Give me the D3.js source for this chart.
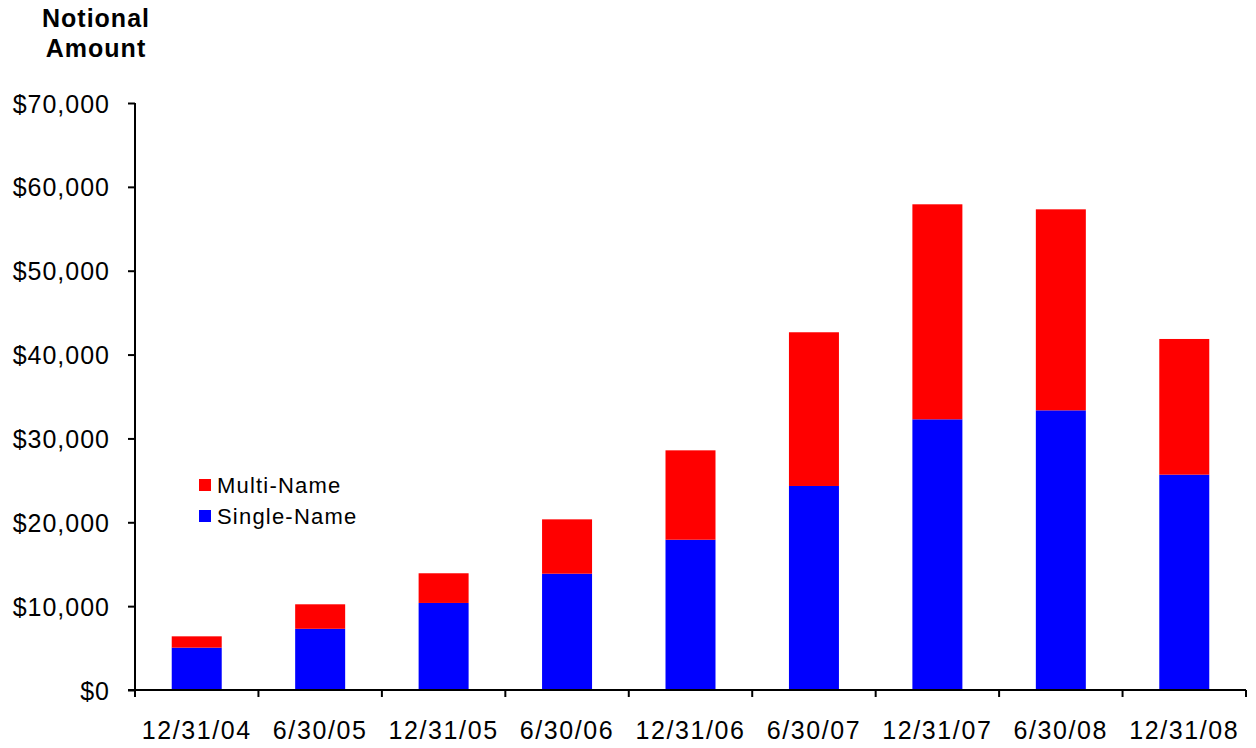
<!DOCTYPE html>
<html>
<head>
<meta charset="utf-8">
<script src="https://cdn.jsdelivr.net/npm/d3@7"></script>
<style>
  body { margin: 0; background: #fff; }
  text { font-family: "Liberation Sans", Arial, sans-serif; fill: #000; }
</style>
</head>
<body>
<script>
// values (notional amount, $)
var dates = ["12/31/04", "6/30/05", "12/31/05", "6/30/06", "12/31/06", "6/30/07", "12/31/07", "6/30/08", "12/31/08"];
var singleName = [5050, 7300, 10380, 13870, 17920, 24330, 32280, 33350, 25680];
var multiName = [1350, 2920, 3540, 6480, 10660, 18330, 25640, 23970, 16180];
var yTicks = [0, 10000, 20000, 30000, 40000, 50000, 60000, 70000];
var seriesNames = ["Multi-Name", "Single-Name"];
var colors = {"Single-Name": "#0000ff", "Multi-Name": "#ff0000"};

var width = 1256, height = 748;
var plotLeft = 135, plotRight = 1246, plotTop = 103, plotBottom = 690;

var svg = d3.select("body").append("svg")
    .attr("width", width)
    .attr("height", height);

var x = d3.scaleBand().domain(dates).range([plotLeft, plotRight]).paddingInner(0.595).paddingOuter(0.2975);
var y = d3.scaleLinear().domain([0, 70000]).range([plotBottom, plotTop]);

var rows = dates.map(function(d, i) {
  return {date: d, "Single-Name": singleName[i], "Multi-Name": multiName[i]};
});
var stack = d3.stack().keys(["Single-Name", "Multi-Name"])(rows);

svg.selectAll("g.layer")
  .data(stack)
  .enter().append("g")
  .attr("class", "layer")
  .attr("fill", function(d) { return colors[d.key]; })
  .selectAll("rect")
  .data(function(d) { return d; })
  .enter().append("rect")
  .attr("x", function(d) { return x(d.data.date); })
  .attr("width", x.bandwidth())
  .attr("y", function(d) { return y(d[1]); })
  .attr("height", function(d) { return y(d[0]) - y(d[1]); });

// y axis
var yAxis = svg.append("g")
  .attr("transform", "translate(" + plotLeft + ",0)")
  .call(d3.axisLeft(y).tickValues(yTicks).tickSize(7).tickPadding(18)
    .tickFormat(function(d) { return "$" + d3.format(",")(d); }));
yAxis.select(".domain").attr("stroke", "#000").attr("stroke-width", 2).attr("d", "M0," + plotTop + "V" + plotBottom);
yAxis.selectAll(".tick line").attr("stroke", "#000").attr("stroke-width", 2);
yAxis.selectAll("text").attr("font-size", 25).attr("letter-spacing", 1).attr("dy", "0.36em");

// x axis, ticks on the category boundaries
var bounds = d3.range(dates.length + 1).map(function(i) { return plotLeft + i * x.step(); });
var xAxis = svg.append("g");
xAxis.append("line")
  .attr("x1", plotLeft - 7).attr("x2", plotRight)
  .attr("y1", plotBottom).attr("y2", plotBottom)
  .attr("stroke", "#000").attr("stroke-width", 2);
xAxis.selectAll("line.tk")
  .data(bounds)
  .enter().append("line")
  .attr("class", "tk")
  .attr("x1", function(d) { return d; }).attr("x2", function(d) { return d; })
  .attr("y1", plotBottom).attr("y2", plotBottom + 7)
  .attr("stroke", "#000").attr("stroke-width", 2);
xAxis.selectAll("text")
  .data(dates)
  .enter().append("text")
  .attr("x", function(d) { return x(d) + x.bandwidth() / 2; })
  .attr("y", 739)
  .attr("text-anchor", "middle")
  .attr("font-size", 25)
  .attr("letter-spacing", 1.6)
  .text(function(d) { return d; });

// axis title
svg.append("text")
  .attr("x", 96).attr("y", 27)
  .attr("text-anchor", "middle")
  .attr("font-size", 25).attr("font-weight", "bold").attr("letter-spacing", 1)
  .text("Notional");
svg.append("text")
  .attr("x", 96).attr("y", 57)
  .attr("text-anchor", "middle")
  .attr("font-size", 25).attr("font-weight", "bold").attr("letter-spacing", 1)
  .text("Amount");

// legend
var legend = svg.selectAll("g.legend")
  .data(seriesNames)
  .enter().append("g")
  .attr("class", "legend")
  .attr("transform", function(d, i) { return "translate(199," + (479 + i * 31) + ")"; });
legend.append("rect")
  .attr("width", 12).attr("height", 12)
  .attr("fill", function(d) { return colors[d]; });
legend.append("text")
  .attr("x", 18).attr("y", 14)
  .attr("font-size", 22).attr("letter-spacing", 1.2)
  .text(function(d) { return d; });
</script>
</body>
</html>
